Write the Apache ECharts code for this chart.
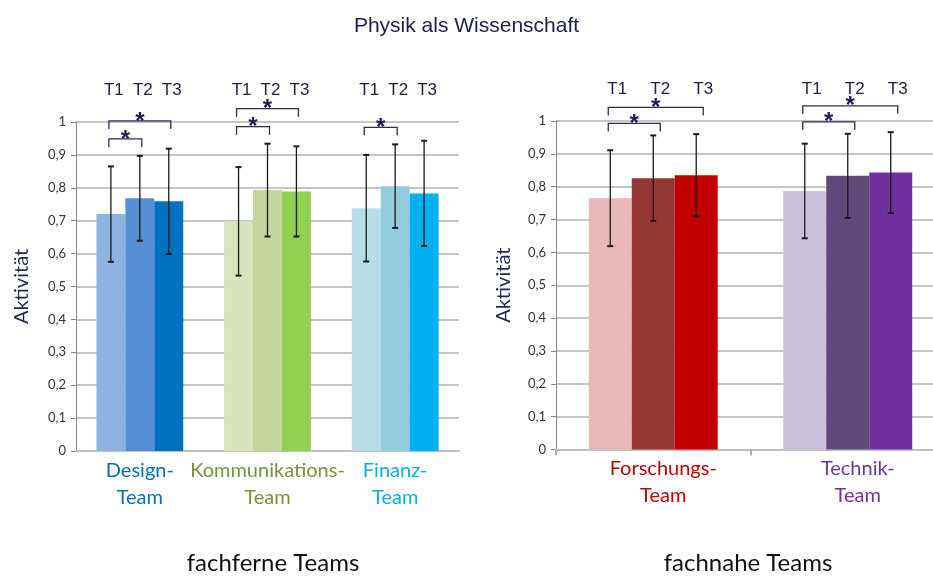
<!DOCTYPE html>
<html>
<head>
<meta charset="utf-8">
<script src="https://cdn.jsdelivr.net/npm/echarts@6/dist/echarts.min.js"></script>
<style>
  html, body { margin: 0; padding: 0; background: #fff; }
  #chart { width: 933px; height: 576px; }
</style>
</head>
<body>
<div id="chart"></div>
<script>
// Teams grouped into two panels
const leftCategories = ['Design-\nTeam', 'Kommunikations-\nTeam', 'Finanz-\nTeam'];
const rightCategories = ['Forschungs-\nTeam', 'Technik-\nTeam'];
const timePoints = ['T1', 'T2', 'T3'];
const yTicks = [0, 0.1, 0.2, 0.3, 0.4, 0.5, 0.6, 0.7, 0.8, 0.9, 1];

// Mean activity per team at T1, T2, T3
const leftT1 = [0.72, 0.698, 0.738];
const leftT2 = [0.768, 0.793, 0.805];
const leftT3 = [0.759, 0.789, 0.783];
const rightT1 = [0.765, 0.787];
const rightT2 = [0.826, 0.833];
const rightT3 = [0.835, 0.843];

// Standard deviations (error bars)
const leftSd1 = [0.145, 0.165, 0.162];
const leftSd2 = [0.129, 0.141, 0.127];
const leftSd3 = [0.16, 0.137, 0.16];
const rightSd1 = [0.146, 0.144];
const rightSd2 = [0.13, 0.128];
const rightSd3 = [0.125, 0.123];

// Significant differences: [team index, from time point, to time point]
const leftSignificant = [[0, 0, 1], [0, 0, 2], [1, 0, 1], [1, 0, 2], [2, 0, 1]];
const rightSignificant = [[0, 0, 1], [0, 0, 2], [1, 0, 1], [1, 0, 2]];

// Colours: one shade per time point for each team
const leftColors = [
  ['#8DB3E2', '#558ED5', '#0070C0'],
  ['#D7E4BD', '#C3D69B', '#92D050'],
  ['#B7DEE8', '#93CDDD', '#00B0F0']
];
const rightColors = [
  ['#E6B9B8', '#953735', '#C00000'],
  ['#CCC1DA', '#604A7B', '#7030A0']
];
const leftLabelColors = ['#0070C0', '#76923C', '#00B0F0'];
const rightLabelColors = ['#C00000', '#7030A0'];

const NAVY = '#1C1C50';
const LEFT_GAP = 0.32;
const RIGHT_GAP = 0.337;
const labelFont = 'Lato, "Open Sans", sans-serif';

function barSeries(name, values, colors, t, axisIdx, gap) {
  return {
    type: 'bar',
    name: name,
    xAxisIndex: axisIdx,
    yAxisIndex: axisIdx,
    barGap: '0%',
    barCategoryGap: (gap * 100) + '%',
    data: values.map((v, i) => ({ value: v, itemStyle: { color: colors[i][t] } })),
    z: 2
  };
}

function barCenter(api, cat, t, gap, yVal) {
  const p = api.coord([cat, yVal]);
  const band = api.size([1, 0])[0];
  const bw = band * (1 - gap) / 3;
  return [p[0] + (t - 1) * bw, p[1]];
}

function errorSeries(means, sds, axisIdx, gap) {
  const data = [];
  means.forEach((arr, t) => arr.forEach((m, c) => data.push([c, t, m, sds[t][c]])));
  return {
    type: 'custom',
    xAxisIndex: axisIdx,
    yAxisIndex: axisIdx,
    z: 5,
    encode: { x: 0, y: 2 },
    data: data,
    renderItem: function (params, api) {
      const c = api.value(0), t = api.value(1), m = api.value(2), sd = api.value(3);
      const top = barCenter(api, c, t, gap, m + sd);
      const bot = barCenter(api, c, t, gap, m - sd);
      const x = top[0];
      const capStyle = { stroke: '#1a1a1a', lineWidth: 2 };
      return {
        type: 'group',
        children: [
          { type: 'line', shape: { x1: x, y1: top[1], x2: x, y2: bot[1] }, style: { stroke: '#1a1a1a', lineWidth: 1.3 } },
          { type: 'line', shape: { x1: x - 3, y1: top[1], x2: x + 3, y2: top[1] }, style: capStyle },
          { type: 'line', shape: { x1: x - 3, y1: bot[1], x2: x + 3, y2: bot[1] }, style: capStyle }
        ]
      };
    }
  };
}

function bracketSeries(pairs, means, sds, axisIdx, gap, lift, step, widen) {
  // Brackets sit above the T1/T2 error bars of their team; the longer one stacks above.
  const data = pairs.map(([c, a, b]) => {
    const anchor = Math.max(means[0][c] + sds[0][c], means[1][c] + sds[1][c]);
    return [c, a, b, anchor, b - a - 1];
  });
  return {
    type: 'custom',
    xAxisIndex: axisIdx,
    yAxisIndex: axisIdx,
    z: 6,
    encode: { x: 0, y: 3 },
    data: data,
    renderItem: function (params, api) {
      const c = api.value(0), a = api.value(1), b = api.value(2), anchor = api.value(3), level = api.value(4);
      const pa = barCenter(api, c, a, gap, anchor);
      const pb = barCenter(api, c, b, gap, anchor);
      const y = pa[1] - lift - level * step;
      const x1 = pa[0] - 2, x2 = pb[0] + widen;
      const st = { stroke: '#2B2B5E', lineWidth: 1.3, fill: null };
      return {
        type: 'group',
        children: [
          { type: 'polyline', shape: { points: [[x1, y + 8], [x1, y], [x2, y], [x2, y + 8]] }, style: st },
          { type: 'text', style: { text: '*', x: (x1 + x2) / 2, y: y + 1, align: 'center', verticalAlign: 'middle',
            font: 'bold 24px "Liberation Sans", Arial, sans-serif', fill: NAVY } }
        ]
      };
    }
  };
}

function timeLabelSeries(nCats, axisIdx, gap, offset) {
  const data = [];
  for (let c = 0; c < nCats; c++) for (let t = 0; t < 3; t++) data.push([c, t, 1]);
  return {
    type: 'custom',
    xAxisIndex: axisIdx,
    yAxisIndex: axisIdx,
    z: 6,
    encode: { x: 0, y: 2 },
    data: data,
    renderItem: function (params, api) {
      const c = api.value(0), t = api.value(1);
      const p = barCenter(api, c, t, gap, 1);
      return {
        type: 'text',
        style: { text: timePoints[t], x: p[0] + offset, y: p[1] - 32, align: 'center', verticalAlign: 'middle',
          font: '17px "Liberation Sans", Arial, sans-serif', fill: NAVY }
      };
    }
  };
}

function yAxisCfg(gridIndex, nameGap) {
  return {
    type: 'value',
    gridIndex: gridIndex,
    min: yTicks[0],
    max: yTicks[yTicks.length - 1],
    interval: 0.1,
    name: 'Aktivität',
    nameLocation: 'middle',
    nameGap: nameGap,
    nameRotate: 90,
    nameTextStyle: { fontFamily: labelFont, fontSize: 20, color: '#1F2550' },
    axisLine: { show: true, lineStyle: { color: '#868686', width: 1 } },
    axisTick: { show: true, length: 5, lineStyle: { color: '#868686' } },
    splitLine: { show: true, lineStyle: { color: '#C6C6C6', width: 2 } },
    axisLabel: {
      fontFamily: labelFont, fontSize: 13, color: '#333', margin: 10,
      formatter: v => String(Math.round(v * 10) / 10).replace('.', ',')
    }
  };
}

function xAxisCfg(gridIndex, cats, colors, showTicks, shift) {
  return {
    type: 'category',
    gridIndex: gridIndex,
    data: cats,
    axisLine: { show: true, lineStyle: { color: '#C0C0C0', width: 2 } },
    axisTick: { show: showTicks, length: 6, lineStyle: { color: '#B0B0B0', width: 2 } },
    axisLabel: {
      interval: 0,
      hideOverlap: false,
      fontFamily: labelFont, fontSize: 20, lineHeight: 27, margin: 6,
      padding: [0, 0, 0, shift],
      color: (val, idx) => colors[idx]
    }
  };
}

const chart = echarts.init(document.getElementById('chart'), null, { renderer: 'canvas' });

const option = {
  animation: false,
  title: {
    text: 'Physik als Wissenschaft',
    left: 'center',
    top: 11,
    textStyle: { fontFamily: '"Liberation Sans", Arial, sans-serif', fontSize: 21, fontWeight: 'normal', color: NAVY }
  },
  grid: [
    { left: 76, width: 383, top: 122, bottom: 125, containLabel: false, outerBoundsMode: 'none' },
    { left: 556, width: 389, top: 121, bottom: 126.5, containLabel: false, outerBoundsMode: 'none' }
  ],
  xAxis: [
    xAxisCfg(0, leftCategories, leftLabelColors, false, 0),
    xAxisCfg(1, rightCategories, rightLabelColors, true, 20)
  ],
  yAxis: [yAxisCfg(0, 44), yAxisCfg(1, 42)],
  series: [
    barSeries('T1', leftT1, leftColors, 0, 0, LEFT_GAP),
    barSeries('T2', leftT2, leftColors, 1, 0, LEFT_GAP),
    barSeries('T3', leftT3, leftColors, 2, 0, LEFT_GAP),
    barSeries('T1', rightT1, rightColors, 0, 1, RIGHT_GAP),
    barSeries('T2', rightT2, rightColors, 1, 1, RIGHT_GAP),
    barSeries('T3', rightT3, rightColors, 2, 1, RIGHT_GAP),
    errorSeries([leftT1, leftT2, leftT3], [leftSd1, leftSd2, leftSd3], 0, LEFT_GAP),
    errorSeries([rightT1, rightT2, rightT3], [rightSd1, rightSd2, rightSd3], 1, RIGHT_GAP),
    bracketSeries(leftSignificant, [leftT1, leftT2, leftT3], [leftSd1, leftSd2, leftSd3], 0, LEFT_GAP, 17, 18, 2),
    bracketSeries(rightSignificant, [rightT1, rightT2, rightT3], [rightSd1, rightSd2, rightSd3], 1, RIGHT_GAP, 12, 16, 7),
    timeLabelSeries(leftCategories.length, 0, LEFT_GAP, 3),
    timeLabelSeries(rightCategories.length, 1, RIGHT_GAP, 7)
  ],
  graphic: [
    { type: 'text', x: 273, y: 563, style: { text: 'fachferne Teams', align: 'center', verticalAlign: 'middle',
      font: '24px ' + labelFont, fill: '#111' } },
    { type: 'text', x: 748, y: 563, style: { text: 'fachnahe Teams', align: 'center', verticalAlign: 'middle',
      font: '24px ' + labelFont, fill: '#111' } }
  ]
};

chart.setOption(option);
</script>
</body>
</html>
